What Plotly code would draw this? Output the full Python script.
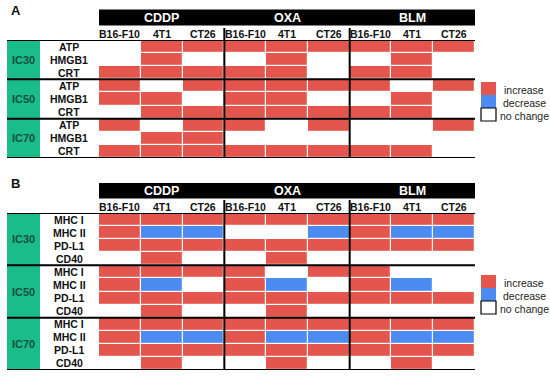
import plotly.graph_objects as go

W, H = 550, 379

# ---------------- data ----------------
drugs = ["CDDP", "OXA", "BLM"]
cell_lines = ["B16-F10", "4T1", "CT26"]
ic_levels = ["IC30", "IC50", "IC70"]
markers_A = ["ATP", "HMGB1", "CRT"]
markers_B = ["MHC I", "MHC II", "PD-L1", "CD40"]

# 1 = increase, 0 = no change, -1 = decrease
# columns: CDDP(B16-F10,4T1,CT26), OXA(...), BLM(...)
values_A_IC30 = [[0, 1, 1, 1, 1, 1, 1, 1, 1],
                 [0, 1, 0, 0, 1, 0, 0, 1, 0],
                 [1, 1, 1, 1, 1, 0, 1, 1, 0]]
values_A_IC50 = [[1, 0, 1, 1, 1, 1, 1, 0, 1],
                 [1, 1, 0, 1, 1, 0, 0, 1, 0],
                 [0, 1, 1, 1, 1, 1, 1, 1, 0]]
values_A_IC70 = [[1, 0, 1, 1, 0, 1, 0, 0, 1],
                 [0, 1, 1, 0, 0, 0, 0, 0, 0],
                 [1, 1, 1, 1, 1, 1, 1, 1, 0]]

values_B_IC30 = [[1, 1, 1, 1, 1, 1, 1, 1, 1],
                 [1, -1, -1, 0, 0, -1, 1, -1, -1],
                 [1, 1, 1, 1, 1, 1, 1, 1, 1],
                 [0, 1, 0, 0, 1, 0, 0, 0, 0]]
values_B_IC50 = [[1, 1, 1, 1, 0, 1, 1, 0, 0],
                 [1, -1, 0, 1, -1, 0, 1, -1, 0],
                 [1, 1, 1, 1, 1, 1, 1, 1, 1],
                 [0, 1, 0, 0, 1, 0, 0, 0, 0]]
values_B_IC70 = [[1, 1, 1, 1, 1, 1, 1, 1, 1],
                 [1, -1, -1, 1, -1, -1, 1, -1, -1],
                 [1, 1, 1, 1, 1, 1, 1, 1, 1],
                 [0, 1, 0, 0, 1, 0, 0, 1, 0]]

legend_labels = ["increase", "decrease", "no change"]

# ---------------- style ----------------
RED = "#E4564D"
BLUE = "#4C8CF2"
GREEN = "#1ABC8A"
GREEN_TXT = "#17513C"
FONT = "Arial, Liberation Sans, sans-serif"

colorscale = [[0, BLUE], [0.333, BLUE], [0.333, "white"], [0.667, "white"],
              [0.667, RED], [1, RED]]


def px_x(p):
    return p / W


def px_y(p):
    return 1 - p / H


columns = [f"{d}|{c}" for d in drugs for c in cell_lines]
ncol = len(columns)

panels = [
    dict(letter="A", markers=markers_A,
         groups=[values_A_IC30, values_A_IC50, values_A_IC70],
         top=40, bottom=158, hdr=(9.5, 25.5), collab=34, vtop=28, letter_y=11,
         legend_top=82, xa="x", ya="y"),
    dict(letter="B", markers=markers_B,
         groups=[values_B_IC30, values_B_IC50, values_B_IC70],
         top=213, bottom=370, hdr=(183, 198.5), collab=207, vtop=200, letter_y=184,
         legend_top=275, xa="x2", ya="y2"),
]

fig = go.Figure()
shapes = []
annotations = []

X0, X1 = 99, 475
for k, p in enumerate(panels):
    z = [row for grp in p["groups"] for row in grp]
    nrow = len(z)
    m = len(p["markers"])
    fig.add_trace(go.Heatmap(
        z=z, x=list(range(ncol)), y=list(range(nrow)),
        zmin=-1, zmax=1, colorscale=colorscale, showscale=False,
        xgap=1.2, ygap=1.2, hoverinfo="skip",
        xaxis=p["xa"], yaxis=p["ya"]))
    axn = "" if k == 0 else "2"
    fig.update_layout(**{
        f"xaxis{axn}": dict(domain=[px_x(X0), px_x(X1)], range=[-0.5, ncol - 0.5],
                            visible=False, fixedrange=True,
                            anchor=p["ya"]),
        f"yaxis{axn}": dict(domain=[px_y(p["bottom"]), px_y(p["top"])],
                            range=[nrow - 0.5, -0.5], visible=False,
                            fixedrange=True, anchor=p["xa"]),
    })
    xr, yr = p["xa"], p["ya"]

    # panel letter
    annotations.append(dict(text=f"<b>{p['letter']}</b>", x=px_x(9), y=px_y(p["letter_y"]),
                            xref="paper", yref="paper", xanchor="left", yanchor="middle",
                            showarrow=False, font=dict(family=FONT, size=13, color="#111")))
    # header bar
    shapes.append(dict(type="rect", xref=xr, yref="paper", x0=-0.5, x1=ncol - 0.5,
                       y0=px_y(p["hdr"][1]), y1=px_y(p["hdr"][0]),
                       fillcolor="black", line=dict(width=0), layer="above"))
    for d, drug in enumerate(drugs):
        annotations.append(dict(text=f"<b>{drug}</b>", x=d * 3 + 1, xref=xr,
                                y=px_y((p["hdr"][0] + p["hdr"][1]) / 2), yref="paper",
                                showarrow=False, xanchor="center", yanchor="middle",
                                font=dict(family=FONT, size=12.5, color="white")))
    for i, col in enumerate(columns):
        annotations.append(dict(text=f"<b>{col.split('|')[1]}</b>", x=i, xref=xr,
                                y=px_y(p["collab"]), yref="paper", showarrow=False,
                                xanchor="center", yanchor="middle",
                                font=dict(family=FONT, size=10.5, color="#111")))
    # green IC boxes, row labels
    for g, ic in enumerate(ic_levels):
        shapes.append(dict(type="rect", xref="paper", yref=yr, x0=px_x(7), x1=px_x(40),
                           y0=g * m - 0.5, y1=g * m + m - 0.5,
                           fillcolor=GREEN, line=dict(width=0), layer="below"))
        annotations.append(dict(text=f"<b>{ic}</b>", x=px_x(23.5), xref="paper",
                                y=g * m + (m - 1) / 2, yref=yr, showarrow=False,
                                xanchor="center", yanchor="middle",
                                font=dict(family=FONT, size=11, color=GREEN_TXT)))
        for r, mk in enumerate(p["markers"]):
            annotations.append(dict(text=f"<b>{mk}</b>", x=px_x(69), xref="paper",
                                    y=g * m + r, yref=yr, showarrow=False,
                                    xanchor="center", yanchor="middle",
                                    font=dict(family=FONT, size=10.5, color="#111")))
    # horizontal black lines
    for g in range(len(ic_levels) + 1):
        shapes.append(dict(type="line", xref="paper", yref=yr, x0=px_x(7), x1=px_x(X1),
                           y0=g * m - 0.5, y1=g * m - 0.5,
                           line=dict(color="black", width=2), layer="above"))
    # vertical black lines between drugs
    for d in range(1, len(drugs)):
        shapes.append(dict(type="line", xref=xr, yref="paper", x0=d * 3 - 0.5, x1=d * 3 - 0.5,
                           y0=px_y(p["vtop"]), y1=px_y(p["bottom"]),
                           line=dict(color="black", width=2), layer="above"))
    # legend
    lt = p["legend_top"]
    sw = [RED, BLUE, "white"]
    for j, lab in enumerate(legend_labels):
        shapes.append(dict(type="rect", xref="paper", yref="paper",
                           x0=px_x(481), x1=px_x(496),
                           y0=px_y(lt + 13 * (j + 1)), y1=px_y(lt + 13 * j),
                           fillcolor=sw[j],
                           line=dict(color="black" if j == 2 else sw[j],
                                     width=1.2 if j == 2 else 0)))
        annotations.append(dict(text=lab, x=px_x(524), xref="paper",
                                y=px_y(lt + 13 * j + 8), yref="paper", showarrow=False,
                                xanchor="center", yanchor="middle",
                                font=dict(family=FONT, size=10.5, color="#222")))

fig.update_layout(width=W, height=H, margin=dict(l=0, r=0, t=0, b=0),
                  paper_bgcolor="white", plot_bgcolor="white",
                  shapes=shapes, annotations=annotations, showlegend=False)

fig.write_html("out.html", config={"displayModeBar": False},
               post_script="document.body.style.margin='0';"
                           "document.body.style.overflow='hidden';")
